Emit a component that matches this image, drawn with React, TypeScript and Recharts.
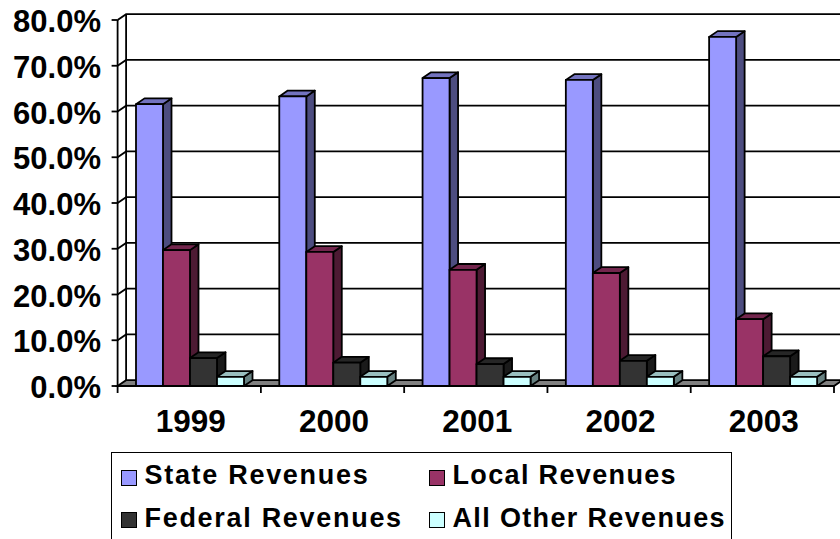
import React from "react";
import { BarChart, Bar, XAxis, YAxis, CartesianGrid, Legend } from "recharts";

const years = ["1999", "2000", "2001", "2002", "2003"];
const stateRevenues = [61.6, 63.3, 67.3, 66.9, 76.3];
const localRevenues = [29.7, 29.3, 25.4, 24.7, 14.6];
const federalRevenues = [6.1, 5.1, 4.8, 5.5, 6.5];
const otherRevenues = [2.0, 2.0, 2.0, 2.0, 2.0];
const yTicks = [0, 10, 20, 30, 40, 50, 60, 70, 80];

const rows = years.map((year, i) => ({
  year,
  state: stateRevenues[i],
  local: localRevenues[i],
  federal: federalRevenues[i],
  other: otherRevenues[i],
}));

const DX = 8.5;
const DY = 5.8;
const FONT = "'Liberation Sans', Arial, sans-serif";
const SW = 1.8;

const make3D = (top: string, side: string) => (p: any) => {
  const { x, y, width, height, fill } = p;
  return (
    <g stroke="#000" strokeWidth={SW} strokeLinejoin="round">
      <polygon
        fill={side}
        points={`${x + width},${y} ${x + width + DX},${y - DY} ${x + width + DX},${y + height - DY} ${x + width},${y + height}`}
      />
      <polygon
        fill={top}
        points={`${x},${y} ${x + DX},${y - DY} ${x + width + DX},${y - DY} ${x + width},${y}`}
      />
      <rect x={x} y={y} width={width} height={height} fill={fill} />
    </g>
  );
};

const gridLine = (p: any) => {
  const { x1, x2, y1, index } = p;
  const isFloor = Math.abs(y1 - (p.y + p.height)) < 0.5;
  const isTop = Math.abs(y1 - p.y) < 0.5;
  return (
    <g key={`g-${index}-${y1}`}>
      {isFloor ? (
        <polygon
          points={`${x1},${y1} ${x1 + DX},${y1 - DY} ${x2 + DX},${y1 - DY} ${x2},${y1}`}
          fill="#808080"
          stroke="#000"
          strokeWidth={SW}
        />
      ) : (
        <polyline
          points={`${x1},${y1} ${x1 + DX},${y1 - DY} ${x2 + DX},${y1 - DY}`}
          fill="none"
          stroke="#000"
          strokeWidth={SW}
        />
      )}
      {isTop ? (
        <line x1={x1 + DX} x2={x1 + DX} y1={y1 - DY} y2={y1 - DY + p.height} stroke="#000" strokeWidth={SW} />
      ) : null}
    </g>
  );
};

const XTick = (p: any) => {
  const { x, y, payload, index, width } = p;
  const band = width / years.length;
  return (
    <g>
      <line x1={x - band / 2} x2={x - band / 2} y1={y - 8} y2={y - 1} stroke="#000" strokeWidth={SW} />
      {index === years.length - 1 ? (
        <line x1={x + band / 2} x2={x + band / 2} y1={y - 8} y2={y - 1} stroke="#000" strokeWidth={SW} />
      ) : null}
      <text x={x + 1.5} y={y + 38} textAnchor="middle" fontFamily={FONT} fontWeight="bold" fontSize={31.5} fill="#000">
        {payload.value}
      </text>
    </g>
  );
};

const YTick = (p: any) => {
  const { y, payload } = p;
  return (
    <text x={101} y={y + 12} textAnchor="end" fontFamily={FONT} fontWeight="bold" fontSize={31} fill="#000">
      {`${payload.value.toFixed(1)}%`}
    </text>
  );
};

const LegendBox = ({ payload }: any) => {
  const items = payload ?? [];
  return (
    <div
      style={{
        boxSizing: "border-box",
        width: 621,
        height: 87,
        border: "1.5px solid #000",
        borderBottom: "none",
        display: "grid",
        gridTemplateColumns: "307.5px 1fr",
        gridAutoRows: "42.5px",
        paddingTop: 3.5,
        fontFamily: FONT,
        fontWeight: "bold",
        fontSize: 27,
        color: "#000",
      }}
    >
      {items.map((it: any, i: number) => (
        <div key={it.value} style={{ display: "flex", alignItems: "center", whiteSpace: "nowrap" }}>
          <span
            style={{
              boxSizing: "border-box",
              display: "inline-block",
              width: 16,
              height: 16,
              marginLeft: 9,
              marginRight: i % 2 === 0 ? 7.5 : 8,
              background: it.color,
              border: "1.5px solid #000",
            }}
          />
          <span style={{ position: "relative", top: -2, letterSpacing: i % 2 === 0 ? 1.7 : 1.35 }}>{it.value}</span>
        </div>
      ))}
    </div>
  );
};

export default function App() {
  return (
    <div style={{ position: "fixed", left: 0, top: 0, width: 840, height: 539, overflow: "hidden", background: "#fff" }}>
      <BarChart
        width={840}
        height={539}
        data={rows}
        margin={{ top: 20, right: 6, bottom: 103, left: 17.6 }}
        barGap={0}
        barCategoryGap={18.4}
      >
        <CartesianGrid horizontal={gridLine as any} vertical={false} />
        <XAxis
          dataKey="year"
          height={50}
          axisLine={{ stroke: "#000", strokeWidth: SW }}
          tickLine={false}
          tick={<XTick />}
          interval={0}
        />
        <YAxis
          width={100}
          domain={[0, 80]}
          ticks={yTicks}
          interval={0}
          axisLine={{ stroke: "#000", strokeWidth: SW }}
          tickLine={{ stroke: "#000", strokeWidth: SW }}
          tickSize={6}
          tick={<YTick />}
        />
        <Legend
          layout="horizontal"
          verticalAlign="middle"
          align="center"
          itemSorter={null}
          wrapperStyle={{ position: "absolute", left: 111, top: 452, width: 621, height: 87, bottom: "auto" }}
          content={<LegendBox />}
        />
        <Bar dataKey="state" name="State Revenues" fill="#9999FF" isAnimationActive={false} shape={make3D("#7373BF", "#4D4D80")} />
        <Bar dataKey="local" name="Local Revenues" fill="#993366" isAnimationActive={false} shape={make3D("#73264D", "#4D1A33")} />
        <Bar dataKey="federal" name="Federal Revenues" fill="#333333" isAnimationActive={false} shape={make3D("#262626", "#1A1A1A")} />
        <Bar dataKey="other" name="All Other Revenues" fill="#CCFFFF" isAnimationActive={false} shape={make3D("#99BFBF", "#668080")} />
      </BarChart>
    </div>
  );
}
